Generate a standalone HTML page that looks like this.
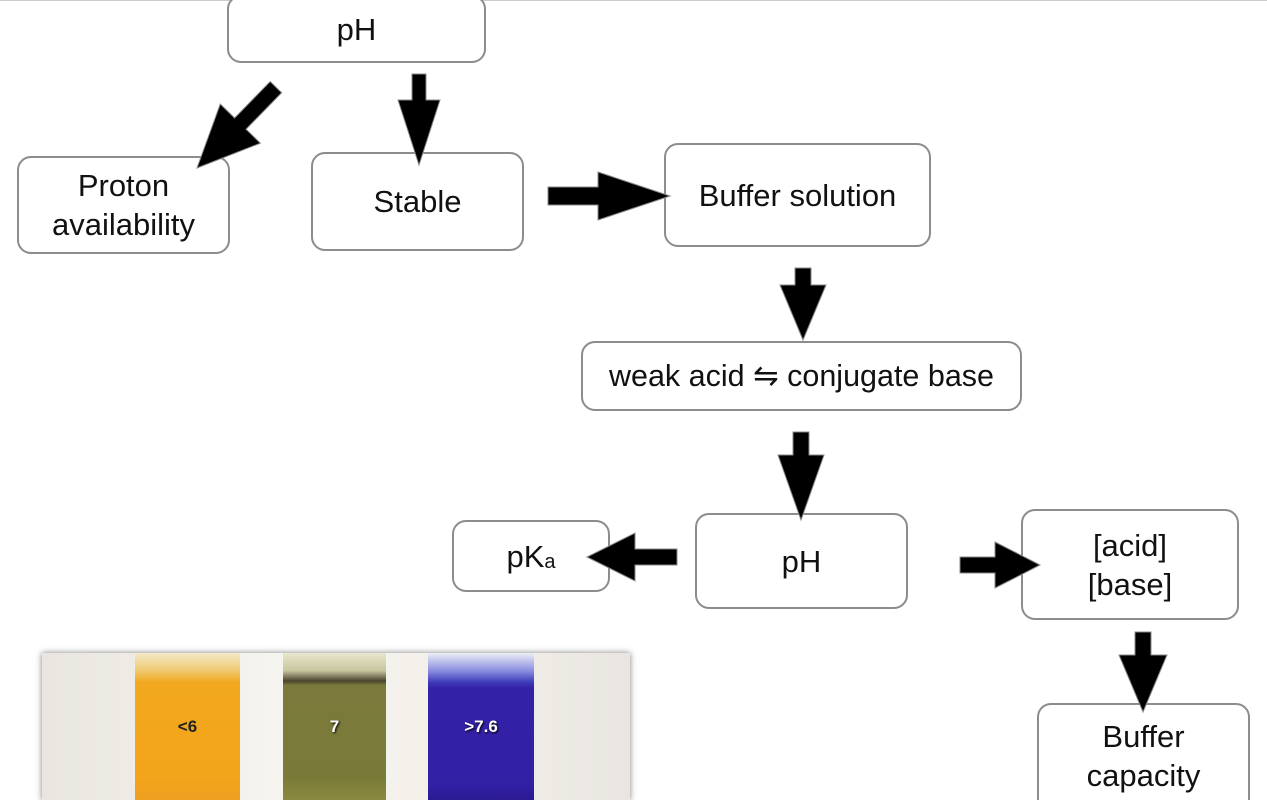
<!DOCTYPE html>
<html><head><meta charset="utf-8"><style>
html,body{margin:0;width:1267px;height:800px;overflow:hidden;background:#fff;position:relative;font-family:"Liberation Sans",Arial,sans-serif}
.b{position:absolute;box-sizing:border-box;border:2px solid #8c8c8c;border-radius:14px;background:#fff;display:flex;align-items:center;justify-content:center;text-align:center;font-size:31px;line-height:39px;color:#111}
svg{position:absolute;left:0;top:0}
.img{position:absolute;left:42px;top:653px;width:588px;height:147px;background:linear-gradient(90deg,#e9e6e0,#f6f4ef 40%,#f3f0ea 70%,#e9e6e1);box-shadow:0 0 6px rgba(0,0,0,.5);overflow:hidden}
.v{position:absolute;top:0;height:147px;display:flex;align-items:center;justify-content:center;font-weight:bold;font-size:17px}
</style></head><body>
<div style="position:absolute;left:0;top:0;width:1267px;height:1px;background:#ccc"></div>
<div class="b" style="left:227px;top:-5px;width:259px;height:68px">pH</div>
<div class="b" style="left:17px;top:156px;width:213px;height:98px">Proton<br>availability</div>
<div class="b" style="left:311px;top:152px;width:213px;height:99px">Stable</div>
<div class="b" style="left:664px;top:143px;width:267px;height:104px">Buffer solution</div>
<div class="b" style="left:581px;top:341px;width:441px;height:70px;font-size:30.5px;white-space:nowrap">weak acid ⇋ conjugate base</div>
<div class="b" style="left:695px;top:513px;width:213px;height:96px">pH</div>
<div class="b" style="left:452px;top:520px;width:158px;height:72px">pK<span style="font-size:20px;position:relative;top:6px">a</span></div>
<div class="b" style="left:1021px;top:509px;width:218px;height:111px">[acid]<br>[base]</div>
<div class="b" style="left:1037px;top:703px;width:213px;height:110px;align-items:flex-start;padding-top:12px">Buffer<br>capacity</div>
<svg width="1267" height="800">
<g transform="translate(197,168) rotate(134.3)"><polygon points="0,0 -62,-28 -62,-8 -113,-8 -113,8 -62,8 -62,28" fill="#000" stroke="#888"/></g>
<g transform="translate(419,165) rotate(90)"><polygon points="0,0 -65,-21 -65,-7 -91,-7 -91,7 -65,7 -65,21" fill="#000" stroke="#888"/></g>
<g transform="translate(670,196) rotate(0)"><polygon points="0,0 -72,-24 -72,-9 -122,-9 -122,9 -72,9 -72,24" fill="#000" stroke="#888"/></g>
<g transform="translate(803,340) rotate(90)"><polygon points="0,0 -55,-23 -55,-8 -72,-8 -72,8 -55,8 -55,23" fill="#000" stroke="#888"/></g>
<g transform="translate(801,520) rotate(90)"><polygon points="0,0 -65,-23 -65,-8 -88,-8 -88,8 -65,8 -65,23" fill="#000" stroke="#888"/></g>
<g transform="translate(587,557) rotate(180)"><polygon points="0,0 -48,-24 -48,-8 -90,-8 -90,8 -48,8 -48,24" fill="#000" stroke="#888"/></g>
<g transform="translate(1040,565) rotate(0)"><polygon points="0,0 -45,-23 -45,-8 -80,-8 -80,8 -45,8 -45,23" fill="#000" stroke="#888"/></g>
<g transform="translate(1143,712) rotate(90)"><polygon points="0,0 -57,-24 -57,-8 -80,-8 -80,8 -57,8 -57,24" fill="#000" stroke="#888"/></g>
</svg>
<div class="img">
<div class="v" style="left:93px;width:105px;background:linear-gradient(180deg,#f3e9c8 0,#f0c870 12%,#f2a81e 20%,#f3a51a 80%,#eea020);color:#222">&lt;6</div>
<div class="v" style="left:241px;width:103px;background:linear-gradient(180deg,#e8e6cc 0,#c9c6a0 12%,#4a4430 19%,#7b7a3c 22%,#7a7a38 85%,#8a8a40);color:#fff;text-shadow:1px 1px 2px #000">7</div>
<div class="v" style="left:386px;width:106px;background:linear-gradient(180deg,#eceef6 0,#8b8ee0 12%,#3d3ab8 20%,#3322a8 24%,#3220a5 90%,#2a1a90);color:#fff;text-shadow:1px 1px 2px #000">&gt;7.6</div>
</div>
</body></html>
